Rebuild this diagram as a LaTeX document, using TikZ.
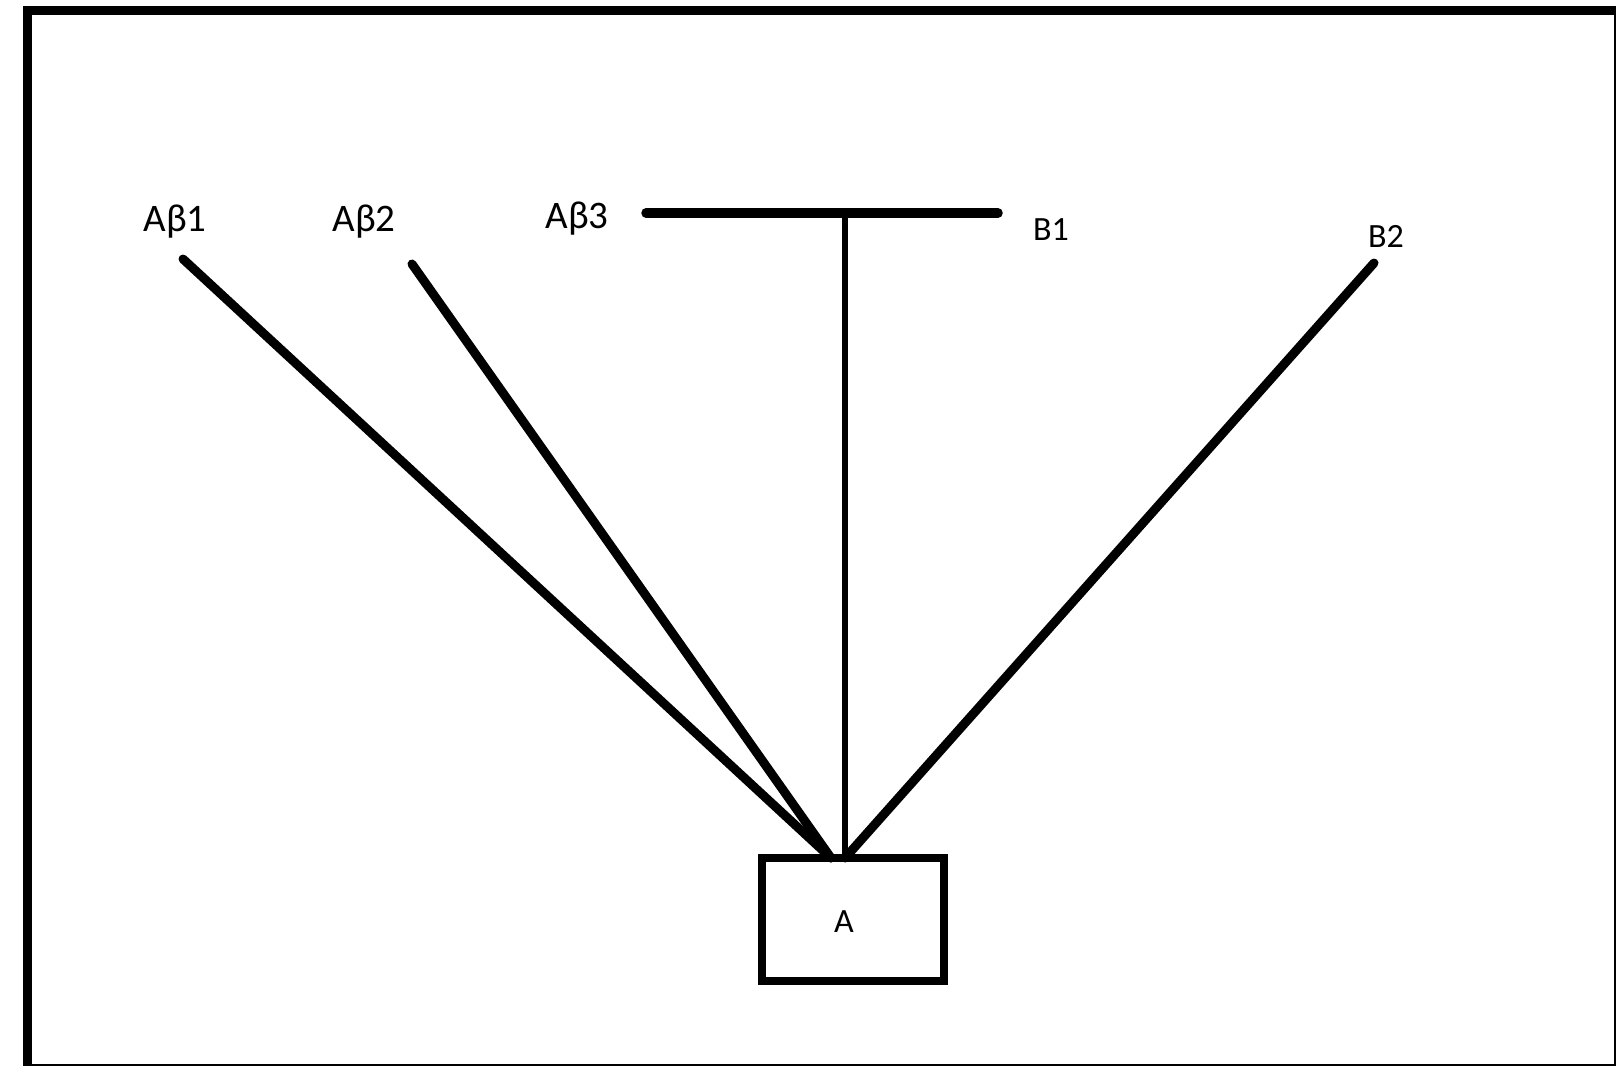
\documentclass[tikz,border=0pt]{standalone}
\usepackage{fontspec}
\setmainfont{Carlito}
\usetikzlibrary{positioning}
\tikzstyle{tag} = [inner sep=0pt, font=\fontsize{19.5}{21}\selectfont]
\tikzstyle{smalltag} = [inner sep=0pt, font=\fontsize{17}{19}\selectfont]
\tikzstyle{unit} = [rectangle, draw=black, line width=4pt, inner sep=0pt, minimum width=91pt, minimum height=61.5pt]
\tikzstyle{wire} = [line width=4.5pt, line cap=round]

\begin{document}
\begin{tikzpicture}[x=0.5pt, y=-0.5pt]
            \useasboundingbox (0,0) rectangle (1616,1065);
            \draw [line width=4.5pt] (27,10.5) rectangle (1618,1068);

            \node (boxA) [unit] at (853,919.5) {};
            \node (labA) [smalltag] at (844,922) {A};
            \node (ab1) [tag] at (175,222) {Aβ1};
            \node (ab2) [tag] at (364,222) {Aβ2};
            \node (ab3) [tag] at (577,219) {Aβ3};
            \node (b1) [smalltag] at (1051,230) {B1};
            \node (b2) [smalltag] at (1386,236) {B2};

            \coordinate (hub) at (831,858);
            \coordinate (stem) at (845,858);
            \coordinate (ab1end) at (183,259);
            \coordinate (ab2end) at (412,264);
            \coordinate (b2end) at (1374,263);
            \coordinate (barL) at (646,213);
            \coordinate (barM) at (845,213);
            \coordinate (barR) at (998,213);

            \draw [wire] (ab1end) -- (hub);
            \draw [wire] (ab2end) -- (hub);
            \draw [wire] (b2end) -- (stem);
            \draw [wire, line width=4.75pt] (barL) -- (barR);
            \draw [wire, line width=3.25pt, line cap=butt] (barM) -- (stem);
        \end{tikzpicture}
\end{document}
